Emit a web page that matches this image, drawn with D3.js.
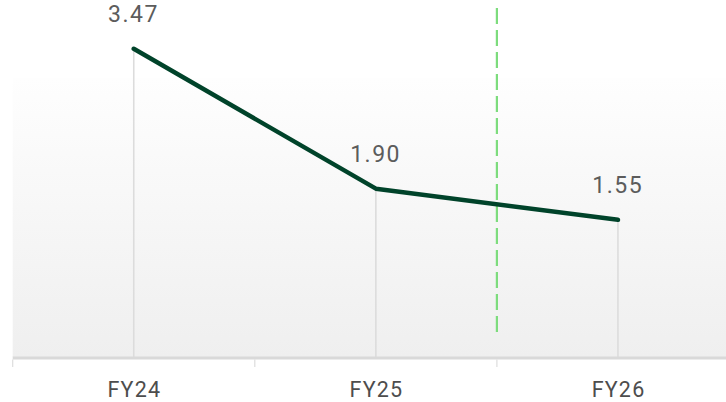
<!DOCTYPE html>
<html>
<head>
<meta charset="utf-8">
<script src="https://cdn.jsdelivr.net/npm/d3@7"></script>
<style>
  html, body { margin: 0; padding: 0; background: #fff; }
  svg { display: block; }
  text { font-family: Roboto, "Noto Sans", sans-serif; }
</style>
</head>
<body>
<svg id="chart" width="726" height="402"></svg>
<script>
const categories = ["FY24", "FY25", "FY26"];
const values = [3.47, 1.90, 1.55];
const valueLabels = ["3.47", "1.90", "1.55"];
const dividerAfter = "FY25"; // dashed divider at end of this band

const W = 726, H = 402;
const svg = d3.select("#chart");

const x = d3.scaleBand().domain(categories).range([12.7, 739]).paddingInner(0).paddingOuter(0);
const y = d3.scaleLinear().domain([0, 4]).range([358, 1.5]);
const cx = d => x(d) + x.bandwidth() / 2;

// background gradient
const defs = svg.append("defs");
const grad = defs.append("linearGradient").attr("id", "bg").attr("x1", 0).attr("y1", 0).attr("x2", 0).attr("y2", 1);
grad.append("stop").attr("offset", "0%").attr("stop-color", "#fefefe");
grad.append("stop").attr("offset", "100%").attr("stop-color", "#efefef");

svg.append("rect")
  .attr("x", x.range()[0]).attr("y", 78)
  .attr("width", W - x.range()[0]).attr("height", y(0) - 78 - 1)
  .attr("fill", "url(#bg)");

// drop lines
svg.append("g").selectAll("line").data(categories).join("line")
  .attr("x1", d => cx(d)).attr("x2", d => cx(d))
  .attr("y1", (d, i) => y(values[i])).attr("y2", y(0))
  .attr("stroke", "#dcdcdc").attr("stroke-width", 1.6);

// x axis
const axis = svg.append("g").attr("transform", `translate(0,${y(0)})`)
  .call(d3.axisBottom(x).tickSize(0).tickPadding(0));
axis.select(".domain").remove();
axis.selectAll(".tick text").remove();
axis.append("line").attr("x1", x.range()[0]).attr("x2", W).attr("y1", 0).attr("y2", 0)
  .attr("stroke", "#d9d9d9").attr("stroke-width", 3);

// band boundary ticks
const bounds = categories.map(c => x(c)).concat([x.range()[1]]);
axis.append("g").selectAll("line").data(bounds).join("line")
  .attr("x1", d => d).attr("x2", d => d).attr("y1", 1.5).attr("y2", 9)
  .attr("stroke", "#dddddd").attr("stroke-width", 1.2);

// category labels
const lsX = 1.2;
svg.append("g").selectAll("text").data(categories).join("text")
  .attr("x", d => cx(d) + lsX / 2).attr("y", 397)
  .attr("text-anchor", "middle").attr("font-size", 21.5).attr("fill", "#4d4d4d")
  .attr("letter-spacing", lsX)
  .text(d => d);

// dashed divider
const dx = x(dividerAfter) + x.bandwidth();
svg.append("line").attr("x1", dx).attr("x2", dx).attr("y1", 8).attr("y2", 332)
  .attr("stroke", "#7ddc7d").attr("stroke-width", 2.2).attr("stroke-dasharray", "16,6");

// line
const lineGen = d3.line().x((d, i) => cx(categories[i])).y(d => y(d));
svg.append("path").datum(values).attr("d", lineGen)
  .attr("fill", "none").attr("stroke", "#00432a").attr("stroke-width", 4.5)
  .attr("stroke-linejoin", "round").attr("stroke-linecap", "round");

// value labels
const lsV = 1.5;
svg.append("g").selectAll("text").data(values).join("text")
  .attr("x", (d, i) => cx(categories[i]) - 1 + lsV / 2).attr("y", d => y(d) - 27)
  .attr("text-anchor", "middle").attr("font-size", 23).attr("fill", "#5c5c5c")
  .attr("letter-spacing", lsV)
  .text((d, i) => valueLabels[i]);
</script>
</body>
</html>
